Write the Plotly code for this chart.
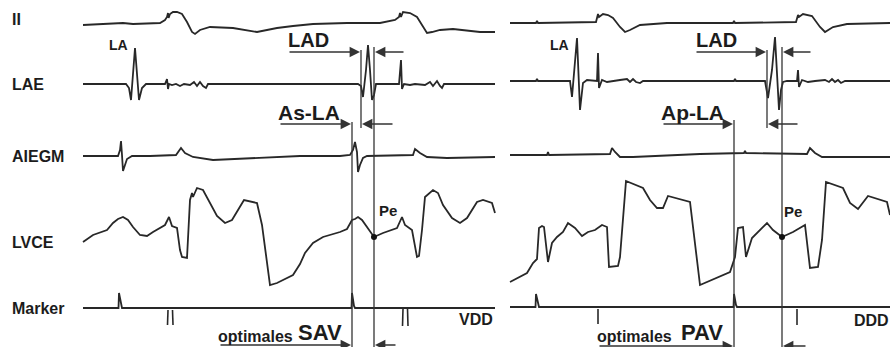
import plotly.graph_objects as go

# ---------------- data (trace samples, in figure units) ----------------
# Left panel: VDD ; right panel: DDD
ii_left_x = [83, 110, 123, 133, 160, 165, 167, 168, 168.6, 170, 173, 177, 182, 187, 192, 195, 200, 210, 233, 257, 277, 293,
             313, 347, 380, 395, 399, 400, 401, 403, 410, 417, 422, 427, 432, 440, 453, 480, 495]
ii_left_y = [25, 24, 23, 24, 23, 20, 17, 13, 18, 14, 12, 12, 14, 22, 32, 34, 30, 27, 28, 32, 28, 26,
             24, 23, 23, 20, 17, 13, 17, 12, 13, 17, 25, 33, 32, 30, 29, 32, 32]
ii_right_x = [510, 536, 537, 538, 596, 597, 598, 599, 603, 608, 613, 620, 625, 630, 640, 667, 733, 734, 735,
              796, 797, 798, 799, 803, 812, 820, 825, 833, 847, 890]
ii_right_y = [23, 23, 21, 23, 22, 19, 14, 17, 14, 15, 18, 27, 32, 30, 25, 23, 23, 21, 23,
              22, 19, 15, 17, 14, 16, 27, 32, 27, 24, 23]

lae_left_x = [83, 126, 129, 131, 135, 139, 142, 146, 165, 167, 168, 169, 172, 176, 180, 184, 190, 194, 197, 200, 203,
              206, 208, 212, 358, 361, 363, 366, 368, 370, 372, 374, 376, 399, 401, 402, 404, 410, 415, 425, 430,
              433, 437, 440, 442, 444, 495]
lae_left_y = [84, 84, 88, 100, 48, 100, 88, 84, 84, 79, 89, 84, 85, 84, 86, 84, 85, 82, 86, 82, 86,
              88, 84, 84, 84, 86, 97, 70, 45, 70, 100, 95, 84, 84, 60, 89, 84, 85, 84, 85, 82,
              86, 81, 86, 88, 84, 84]
lae_right_x = [510, 536, 537, 538, 570, 572, 577, 580, 583, 587, 597, 598, 599, 602, 607, 612, 620, 627, 630, 633,
               636, 640, 643, 734, 735, 736, 765, 768, 772, 775, 777, 779, 781, 783, 787, 797, 798, 799, 802,
               808, 815, 825, 829, 832, 835, 838, 841, 845, 890]
lae_right_y = [81, 81, 79, 81, 81, 97, 38, 110, 83, 80, 81, 53, 88, 80, 82, 81, 80, 79, 82, 79,
               82, 83, 81, 81, 79, 81, 81, 98, 70, 37, 70, 110, 90, 82, 81, 81, 70, 87, 80,
               82, 81, 80, 82, 79, 82, 80, 83, 81, 81]

aiegm_left_x = [83, 118, 120, 121, 122, 123, 125, 127, 132, 150, 176, 178, 181, 185, 193, 213, 233, 267, 300, 340,
                350, 353, 355, 357, 358, 360, 363, 367, 413, 415, 420, 427, 447, 495]
aiegm_left_y = [156, 156, 150, 141, 155, 171, 165, 159, 156, 156, 155, 152, 148, 153, 157, 160, 159, 157, 156, 156,
                155, 150, 142, 152, 172, 165, 158, 156, 155, 149, 153, 157, 158, 157]
aiegm_right_x = [510, 547, 548, 549, 610, 612, 615, 620, 633, 700, 744, 745, 746, 807, 810, 815, 822, 850, 890]
aiegm_right_y = [155, 155, 152, 155, 154, 148, 152, 157, 157, 154, 153, 151, 153, 154, 148, 153, 157, 157, 157]

lvce_left_x = [83, 93, 107, 113, 118, 123, 128, 133, 140, 147, 153, 160, 165, 169, 172, 177, 180, 182, 185, 187,
               190, 192, 193, 197, 203, 210, 217, 225, 232, 238, 244, 257, 262, 270, 277, 293, 300, 305, 313,
               323, 340, 347, 352, 355, 358, 362, 368, 374, 383, 397, 402, 405, 412, 417, 419, 422, 425, 428,
               433, 438, 443, 452, 460, 467, 477, 483, 492, 495]
lvce_left_y = [242, 235, 230, 223, 219, 217, 220, 227, 235, 236, 232, 228, 225, 217, 226, 228, 250, 257, 258, 258,
               200, 193, 197, 188, 190, 203, 216, 223, 220, 210, 200, 203, 225, 285, 283, 275, 264, 253, 243,
               237, 232, 229, 220, 219, 217, 220, 228, 237, 233, 228, 217, 225, 230, 257, 256, 230, 197, 194,
               190, 193, 205, 218, 223, 218, 202, 200, 203, 213]
lvce_right_x = [510, 527, 533, 537, 539, 542, 544, 548, 552, 557, 563, 568, 575, 582, 588, 595, 602, 607, 609, 618,
                620, 626, 643, 650, 657, 663, 668, 690, 700, 730, 735, 738, 743, 746, 752, 758, 767, 773, 782,
                793, 805, 810, 818, 822, 826, 843, 850, 858, 868, 887, 890]
lvce_right_y = [282, 273, 263, 259, 228, 226, 227, 262, 243, 237, 232, 223, 228, 236, 232, 230, 225, 227, 267, 266,
                257, 181, 188, 200, 208, 208, 196, 202, 285, 272, 257, 228, 227, 257, 238, 232, 223, 230, 237,
                232, 225, 268, 267, 240, 182, 188, 203, 209, 196, 202, 215]

marker_left_x = [83, 118.5, 119, 121, 122, 351.5, 352, 354, 355, 495]
marker_left_y = [308, 308, 293, 306, 308, 308, 293, 306, 308, 308]
marker_right_x = [510, 535.5, 536, 538, 539, 733.5, 734, 736, 737, 890]
marker_right_y = [307, 307, 294, 305, 307, 307, 294, 305, 307, 307]

# ventricular sense ticks below marker baseline
vtick_x0 = [168, 172.5, 403, 407.5, 598, 797]
vtick_x1 = [167.5, 173, 402.5, 408, 598, 797]
vtick_y0 = [310, 310, 309, 309, 309, 309]
vtick_y1 = [325, 325, 326, 326, 324, 325]

# Pe points
pe_x = [374, 782]
pe_y = [237, 237]

# measurement cursor lines
cursor_x = [352, 361, 374, 734, 767, 782]
cursor_top = [122, 50, 47, 120, 50, 47]
cursor_bottom = [347, 128, 347, 347, 128, 347]

# interval arrows: tail x, head x, y
arrow_tail = [288, 405, 279, 394, 219, 397, 695, 812, 662, 799, 598, 807]
arrow_head = [360, 375, 351, 362, 351, 375, 766, 783, 733, 768, 733, 783]
arrow_y = [52, 52, 124, 124, 345, 345, 52, 52, 124, 124, 346, 346]

channel_labels = ["II", "LAE", "AIEGM", "LVCE", "Marker"]
interval_labels = ["LAD", "As-LA", "LAD", "Ap-LA"]
mode_labels = ["VDD", "DDD"]
optimal_labels = [("optimales", "SAV"), ("optimales", "PAV")]

# ---------------- figure ----------------
INK = "#282828"
TXT = "#1c1c1c"
FONT = "Liberation Sans, Arial, sans-serif"

fig = go.Figure()


def add_line(xs, ys, w=1.8, color=INK):
    fig.add_trace(go.Scatter(x=xs, y=ys, mode="lines", line=dict(color=color, width=w),
                             hoverinfo="skip", showlegend=False))


for xs, ys in [(ii_left_x, ii_left_y), (ii_right_x, ii_right_y),
               (lae_left_x, lae_left_y), (lae_right_x, lae_right_y),
               (aiegm_left_x, aiegm_left_y), (aiegm_right_x, aiegm_right_y),
               (lvce_left_x, lvce_left_y), (lvce_right_x, lvce_right_y),
               (marker_left_x, marker_left_y), (marker_right_x, marker_right_y)]:
    add_line(xs, ys, 1.8)

for a, b, c, d in zip(vtick_x0, vtick_x1, vtick_y0, vtick_y1):
    add_line([a, b], [c, d], 1.6)

for x, t, b in zip(cursor_x, cursor_top, cursor_bottom):
    add_line([x, x], [t, b], 1.3, "#333333")

fig.add_trace(go.Scatter(x=pe_x, y=pe_y, mode="markers", marker=dict(color="#111", size=6),
                         hoverinfo="skip", showlegend=False))

annotations = []
for tx, hx, y in zip(arrow_tail, arrow_head, arrow_y):
    annotations.append(dict(x=hx, y=y, ax=tx, ay=y, xref="x", yref="y", axref="x", ayref="y",
                            text="", showarrow=True, arrowhead=2, arrowsize=1.6, arrowwidth=1.3,
                            arrowcolor="#333333", standoff=0, startstandoff=0))


def label(txt, x, y, size, anchor="left"):
    annotations.append(dict(x=x, y=y, xref="x", yref="y", text="<b>%s</b>" % txt, showarrow=False,
                            xanchor=anchor, yanchor="middle", borderpad=0,
                            font=dict(family=FONT, size=size, color=TXT)))


label_y = [19, 84, 156, 242, 308]
for t, y in zip(channel_labels, label_y):
    label(t, 11, y, 16)

label(interval_labels[0], 287, 40, 20)
label(interval_labels[1], 277, 112, 21)
label(interval_labels[2], 695, 40, 20)
label(interval_labels[3], 660, 112, 21)

label("LA", 108, 45, 14)
label("LA", 549, 45, 14)
label("Pe", 378, 210, 15)
label("Pe", 783, 211, 15)

label(mode_labels[0], 458, 319, 16)
label(mode_labels[1], 889.5, 320, 16, anchor="right")

label(optimal_labels[0][0], 217, 336, 16)
label(optimal_labels[0][1], 297, 332, 22)
label(optimal_labels[1][0], 596, 336, 16)
label(optimal_labels[1][1], 680, 332, 22)

fig.update_layout(
    width=890, height=347,
    margin=dict(l=0, r=0, t=0, b=0),
    paper_bgcolor="white", plot_bgcolor="white",
    xaxis=dict(range=[0, 890], visible=False, fixedrange=True),
    yaxis=dict(range=[347, 0], visible=False, fixedrange=True),
    annotations=annotations,
    showlegend=False,
)

fig.write_html("out.html", config={"displayModeBar": False})
